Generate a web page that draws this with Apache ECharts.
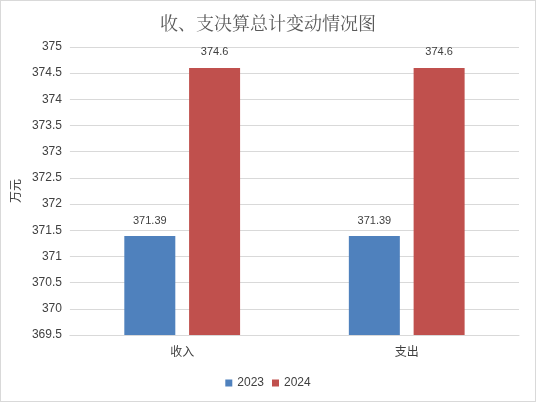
<!DOCTYPE html>
<html>
<head>
<meta charset="utf-8">
<script src="https://cdn.jsdelivr.net/npm/echarts@6/dist/echarts.min.js"></script>
<style>
html, body { margin: 0; padding: 0; background: #fff; }
#main { width: 534px; height: 400px; border: 1px solid #d9d9d9; }
</style>
</head>
<body>
<div id="main"></div>
<script>
var categories = ['收入', '支出'];
var seriesNames = ['2023', '2024'];
var values2023 = [371.39, 371.39];
var values2024 = [374.6, 374.6];
var colors = ['#4F81BD', '#C0504D'];

var dom = document.getElementById('main');
var myChart = echarts.init(dom);

var labelStyle = {
    show: true,
    position: 'top',
    distance: 10,
    color: '#404040',
    fontSize: 11,
    fontFamily: 'Liberation Sans, Arial, sans-serif'
};

var option = {
    animation: false,
    color: colors,
    title: {
        text: '收、支决算总计变动情况图',
        left: 'center',
        top: 8,
        textStyle: {
            color: '#595959',
            fontSize: 18,
            fontWeight: 'normal',
            fontFamily: 'Noto Serif CJK SC, Noto Sans CJK SC, serif'
        }
    },
    grid: {
        left: 63,
        right: 16,
        top: 46,
        bottom: 66
    },
    legend: {
        bottom: 7,
        left: 'center',
        itemWidth: 7,
        itemHeight: 7,
        itemGap: 8,
        icon: 'rect',
        textStyle: { color: '#404040', fontSize: 12, fontFamily: 'Liberation Sans, Arial, sans-serif' },
        data: seriesNames
    },
    xAxis: {
        type: 'category',
        data: categories,
        axisTick: { show: false },
        axisLine: { lineStyle: { color: '#d9d9d9' } },
        axisLabel: { color: '#404040', fontSize: 12, margin: 10, fontFamily: 'Noto Sans CJK SC, sans-serif' }
    },
    yAxis: {
        type: 'value',
        min: 369.5,
        max: 375,
        interval: 0.5,
        name: '万元',
        nameLocation: 'middle',
        nameGap: 44,
        nameRotate: 90,
        nameTextStyle: { color: '#404040', fontSize: 12, fontFamily: 'Noto Sans CJK SC, sans-serif' },
        axisLine: { show: false },
        axisTick: { show: false },
        splitLine: { lineStyle: { color: '#d9d9d9' } },
        axisLabel: { color: '#404040', fontSize: 12, margin: 8, fontFamily: 'Liberation Sans, Arial, sans-serif' }
    },
    series: [{
        name: seriesNames[0],
        type: 'bar',
        data: values2023,
        barWidth: 51,
        barGap: '27%',
        label: labelStyle
    }, {
        name: seriesNames[1],
        type: 'bar',
        data: values2024,
        barWidth: 51,
        barGap: '27%',
        label: labelStyle
    }]
};
myChart.setOption(option);
</script>
</body>
</html>
